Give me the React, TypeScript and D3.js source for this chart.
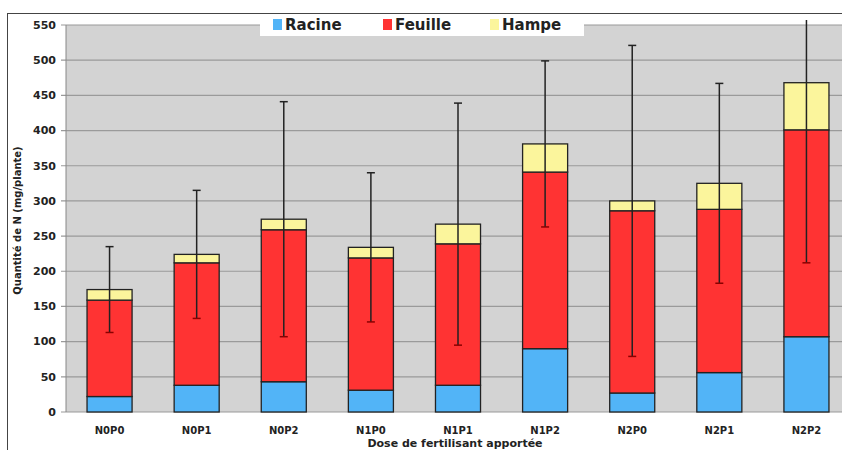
import React from "react";
import * as d3 from "d3";

const categories = ["N0P0", "N0P1", "N0P2", "N1P0", "N1P1", "N1P2", "N2P0", "N2P1", "N2P2"];
const racine = [22, 38, 43, 31, 38, 90, 27, 56, 107];
const feuille = [137, 174, 216, 188, 201, 251, 259, 232, 294];
const hampe = [15, 12, 15, 15, 28, 40, 14, 37, 67];
const errors = [61, 91, 167, 106, 172, 118, 221, 142, 256];
const yTicks = [0, 50, 100, 150, 200, 250, 300, 350, 400, 450, 500, 550];
const seriesNames = ["Racine", "Feuille", "Hampe"];
const seriesColors = ["#52b4f7", "#ff3333", "#fbf59c"];

const W = 842;
const H = 450;
const plotLeft = 66;
const plotRight = 850;
const plotTop = 25;
const plotBottom = 412;

export default function App() {
  const x = d3.scaleBand<string>().domain(categories).range([plotLeft, plotRight]).paddingInner(0.483).paddingOuter(0.2415);
  const y = d3.scaleLinear().domain([0, 550]).range([plotBottom, plotTop]);
  const rows = categories.map((c, i) => ({ cat: c, Racine: racine[i], Feuille: feuille[i], Hampe: hampe[i] }));
  const stack = d3.stack<any>().keys(seriesNames)(rows);
  const font = "'DejaVu Sans', Verdana, sans-serif";
  const bw = x.bandwidth();

  return (
    <svg width={W} height={H} style={{ position: "absolute", left: 0, top: 0, background: "#fff" }} fontFamily={font}>
      <rect x={0} y={0} width={W} height={H} fill="#fff" />
      {/* outer frame */}
      <rect x={7.5} y={13.5} width={900} height={600} fill="none" stroke="#444" strokeWidth={1} />
      {/* plot background */}
      <rect x={plotLeft} y={plotTop} width={plotRight - plotLeft} height={plotBottom - plotTop} fill="#d3d3d3" />
      {yTicks.map((t) => (
        <g key={t}>
          <line x1={plotLeft - 5} x2={plotRight} y1={y(t)} y2={y(t)} stroke="#9a9a9a" strokeWidth={1.2} />
          <text x={plotLeft - 10} y={y(t)} dy="0.35em" textAnchor="end" fontSize={11} fontWeight="bold" fill="#222">
            {t}
          </text>
        </g>
      ))}
      <line x1={plotLeft} x2={plotLeft} y1={plotTop} y2={plotBottom} stroke="#888" strokeWidth={1} />
      {/* bars */}
      {stack.map((layer, si) => (
        <g key={seriesNames[si]}>
          {layer.map((d, i) => (
            <rect
              key={i}
              x={x(categories[i])!}
              y={y(d[1])}
              width={bw}
              height={y(d[0]) - y(d[1])}
              fill={seriesColors[si]}
              stroke="#222"
              strokeWidth={1.3}
            />
          ))}
        </g>
      ))}
      {/* error bars */}
      {categories.map((c, i) => {
        const total = racine[i] + feuille[i] + hampe[i];
        const cx = x(c)! + bw / 2;
        const hi = total + errors[i];
        const lo = total - errors[i];
        const yHi = Math.max(y(hi), plotTop - 5);
        const clipped = y(hi) < plotTop - 5;
        return (
          <g key={c} stroke="#222" strokeWidth={1.5}>
            <line x1={cx} x2={cx} y1={yHi} y2={y(lo)} />
            {!clipped && <line x1={cx - 4} x2={cx + 4} y1={y(hi)} y2={y(hi)} />}
            <line x1={cx - 4} x2={cx + 4} y1={y(lo)} y2={y(lo)} stroke="#8b0000" />
          </g>
        );
      })}
      {/* x labels */}
      {categories.map((c) => (
        <text key={c} x={x(c)! + bw / 2} y={434} textAnchor="middle" fontSize={10} fontWeight="bold" fill="#222">
          {c}
        </text>
      ))}
      <text x={455} y={447} textAnchor="middle" fontSize={11} fontWeight="bold" fill="#222">
        Dose de fertilisant apportée
      </text>
      <text transform={`translate(21,${(plotTop + plotBottom) / 2 + 2}) rotate(-90)`} textAnchor="middle" fontSize={10} fontWeight="bold" fill="#222">
        Quantité de N (mg/plante)
      </text>
      {/* legend */}
      <rect x={260} y={15} width={324} height={21} fill="#fff" />
      {seriesNames.map((s, i) => {
        const lx = [273, 383, 490][i];
        return (
          <g key={s}>
            <rect x={lx} y={19} width={9} height={11} fill={seriesColors[i]} />
            <text x={lx + 12} y={29.5} fontSize={15} fontWeight="bold" fill="#222">
              {s}
            </text>
          </g>
        );
      })}
    </svg>
  );
}
